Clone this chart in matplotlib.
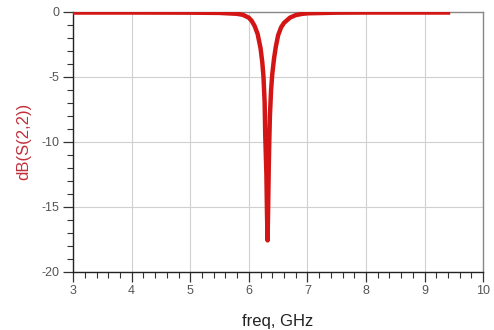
import numpy as np
import matplotlib
matplotlib.use("Agg")
import matplotlib.pyplot as plt
from matplotlib.ticker import MultipleLocator

plt.rcParams['font.family'] = ['Liberation Sans', 'DejaVu Sans']
plt.rcParams['axes.unicode_minus'] = False

# values
freq = [3.0, 4.0, 5.0, 5.5, 5.8, 5.9, 6.0, 6.05, 6.1, 6.15, 6.2, 6.23, 6.25, 6.27,
        6.28, 6.30, 6.31, 6.32, 6.33, 6.34, 6.35, 6.36, 6.38, 6.40, 6.43, 6.46,
        6.5, 6.55, 6.6, 6.7, 6.8, 6.9, 7.0, 7.5, 8.0, 9.4]
s22_db = [-0.05, -0.05, -0.06, -0.08, -0.15, -0.23, -0.45, -0.7, -1.1, -1.7, -2.8, -3.9,
          -5.0, -7.0, -9.5, -12.5, -15.5, -17.6, -15.0, -12.0, -9.8, -8.0, -6.0, -4.8,
          -3.6, -2.7, -1.8, -1.2, -0.85, -0.45, -0.25, -0.16, -0.11, -0.06, -0.05, -0.05]

xticks = [3, 4, 5, 6, 7, 8, 9, 10]
yticks = [0, -5, -10, -15, -20]

fig = plt.figure(figsize=(4.94, 3.30), dpi=100)
ax = fig.add_axes([0.148, 0.177, 0.830, 0.787])

ax.plot(freq, s22_db, color='#d41515', lw=3.2, solid_joinstyle='round', zorder=3)

ax.set_xlim(3, 10)
ax.set_ylim(-20, 0)
ax.set_xticks(xticks)
ax.set_yticks(yticks)
ax.xaxis.set_minor_locator(MultipleLocator(0.2))
ax.yaxis.set_minor_locator(MultipleLocator(1))
ax.grid(True, which='major', color='#d0d0d0', lw=0.8)

ax.tick_params(which='major', direction='out', length=7, width=0.9, color='#333333',
               labelsize=9, labelcolor='#555555', pad=3)
ax.tick_params(which='minor', direction='out', length=4, width=0.8, color='#333333')

for side in ['left', 'bottom']:
    ax.spines[side].set_color('#222222')
    ax.spines[side].set_linewidth(1.0)
for side in ['top', 'right']:
    ax.spines[side].set_color('#888888')
    ax.spines[side].set_linewidth(1.0)

ax.set_xlabel('freq, GHz', fontsize=12, color='#222222', labelpad=12)
ax.set_ylabel('dB(S(2,2))', fontsize=12, color='#c0303a', labelpad=7)

fig.savefig('out.png', dpi=100)
